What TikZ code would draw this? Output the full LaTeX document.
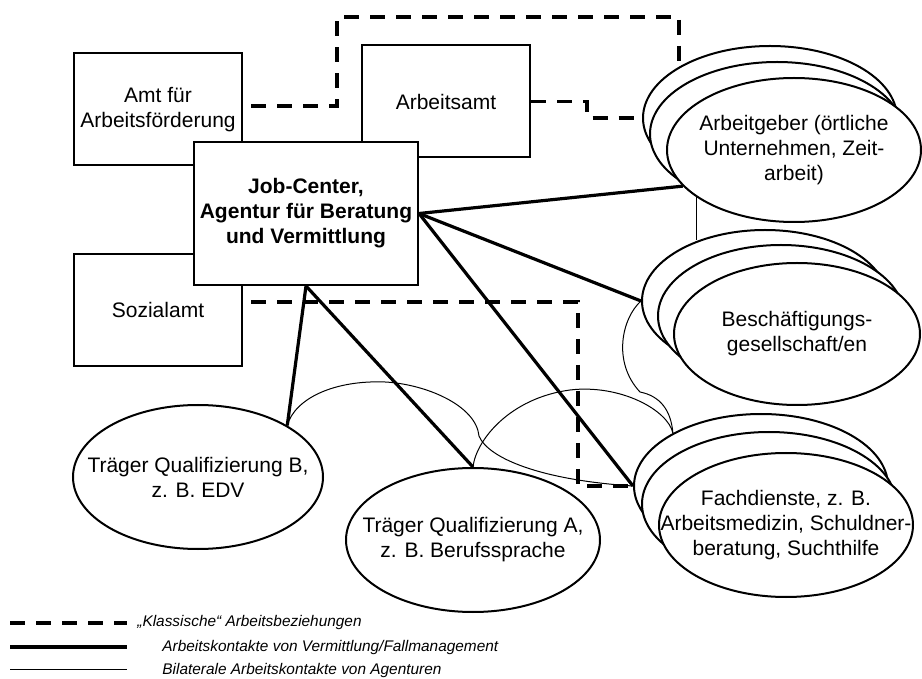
\documentclass[tikz,border=0pt]{standalone}
\usepackage{fontspec}
\setmainfont{Liberation Sans}
\usetikzlibrary{shapes}

\tikzset{
  amtbox/.style={draw, line width=1pt, fill=white, minimum width=84pt, minimum height=56pt, inner sep=0pt, align=center, font=\fontsize{10.5pt}{12.5pt}\selectfont},
  blase/.style={ellipse, draw, line width=1pt, fill=white, minimum width=127pt, minimum height=72pt, inner sep=0pt},
  blasentext/.style={align=center, inner sep=0pt, font=\fontsize{10.5pt}{12.5pt}\selectfont},
  klassisch/.style={line width=1.7pt, dash pattern=on 7.5pt off 5.5pt},
  fallkontakt/.style={line width=1.6pt},
  bilateral/.style={line width=0.5pt},
  legende/.style={anchor=west, inner sep=0pt, font=\fontsize{7.7pt}{9pt}\selectfont\itshape}
}

\begin{document}
\begin{tikzpicture}[x=0.5pt, y=-0.5pt]
  \useasboundingbox (0,0) rectangle (922,679);

  \node[amtbox] (amt) at (158,109.5) {Amt für\\Arbeitsförderung};
  \node[amtbox] (ab) at (446,101.5) {Arbeitsamt};
  \node[amtbox] (soz) at (158,310) {Sozialamt};
  \node[amtbox, minimum width=112pt, minimum height=71.5pt, font=\fontsize{10.5pt}{12.5pt}\selectfont\bfseries] (jc) at (306,213.5) {Job-Center,\\Agentur für Beratung\\und Vermittlung};

  \node[blase] (ag3) at (770,118) {};
  \node[blase] (ag2) at (777,134) {};
  \node[blase] (ag1) at (794,150) {};
  \node[blasentext] (ag1-text) at (ag1) {Arbeitgeber (örtliche\\Unternehmen, Zeit-\\arbeit)};

  \node[blase, minimum width=123pt, minimum height=71pt] (bg3) at (765,301) {};
  \node[blase, minimum width=123pt, minimum height=71pt] (bg2) at (781,316) {};
  \node[blase, minimum width=123pt, minimum height=71pt] (bg1) at (797,334) {};
  \node[blasentext] (bg1-text) at (bg1) {Beschäftigungs-\\gesellschaft/en};

  \node[blase] (fd3) at (761,486) {};
  \node[blase] (fd2) at (769,504) {};
  \node[blase] (fd1) at (786,525) {};
  \node[blasentext] (fd1-text) at (fd1) {Fachdienste, z. B.\\Arbeitsmedizin, Schuldner-\\beratung, Suchthilfe};

  \node[blase, minimum width=125pt] (qb) at (198,477) {};
  \node[blasentext] (qb-text) at (qb) {Träger Qualifizierung B,\\z. B. EDV};
  \node[blase] (qa) at (473,540) {};
  \node[blasentext] (qa-text) at (qa) {Träger Qualifizierung A,\\z. B. Berufssprache};

  \coordinate (k1) at (337,17);
  \coordinate (k2) at (679,17);
  \coordinate (k3) at (587,118);
  \coordinate (k4) at (578,486);
  \draw[klassisch, shorten <=4pt] ([yshift=1.75pt]amt.east) -| (k1) -- (k2) -- (k2 |- ag3.148);
  \draw[klassisch] (ab.east) -| (k3) -- (ag3.west);
  \draw[klassisch, shorten <=4pt] ([yshift=4pt]soz.east) -| (k4) -- (fd3.west);

  \draw[fallkontakt] (jc.east) -- (ag1.198);
  \draw[fallkontakt] (jc.east) -- (bg3.west);
  \draw[fallkontakt] (jc.east) -- (fd3.west);
  \draw[fallkontakt] (jc.south) -- (qb.30);
  \draw[fallkontakt] (jc.south) -- (qa.north);

  \draw[bilateral] (ag1.206) -- (ag1.206 |- bg3.138);
  \draw[bilateral] (qb.30) .. controls (295,398) and (335,380) .. (385,382) .. controls (425,384) and (476,405) .. (479,436) .. controls (488,458) and (540,480) .. (fd3.west);
  \draw[bilateral] (qa.north) .. controls (476,440) and (510,398) .. (570,390) .. controls (620,384) and (668,410) .. (fd3.149);
  \draw[bilateral] (bg3.west) .. controls (622,318) and (612,362) .. (640,392) .. controls (660,396) and (671,410) .. (fd3.149);

  \coordinate (s1a) at (10,623);
  \coordinate (s1b) at (127,623);
  \coordinate (s2a) at (10,647);
  \coordinate (s2b) at (127,647);
  \coordinate (s3a) at (10,669);
  \coordinate (s3b) at (127,669);
  \draw[klassisch] (s1a) -- (s1b);
  \draw[fallkontakt, line width=2pt] (s2a) -- (s2b);
  \draw[bilateral] (s3a) -- (s3b);
  \node[legende] (leg1) at (137,623) {„Klassische“ Arbeitsbeziehungen};
  \node[legende] (leg2) at (162,648) {Arbeitskontakte von Vermittlung/Fallmanagement};
  \node[legende] (leg3) at (162,671) {Bilaterale Arbeitskontakte von Agenturen};
\end{tikzpicture}
\end{document}
